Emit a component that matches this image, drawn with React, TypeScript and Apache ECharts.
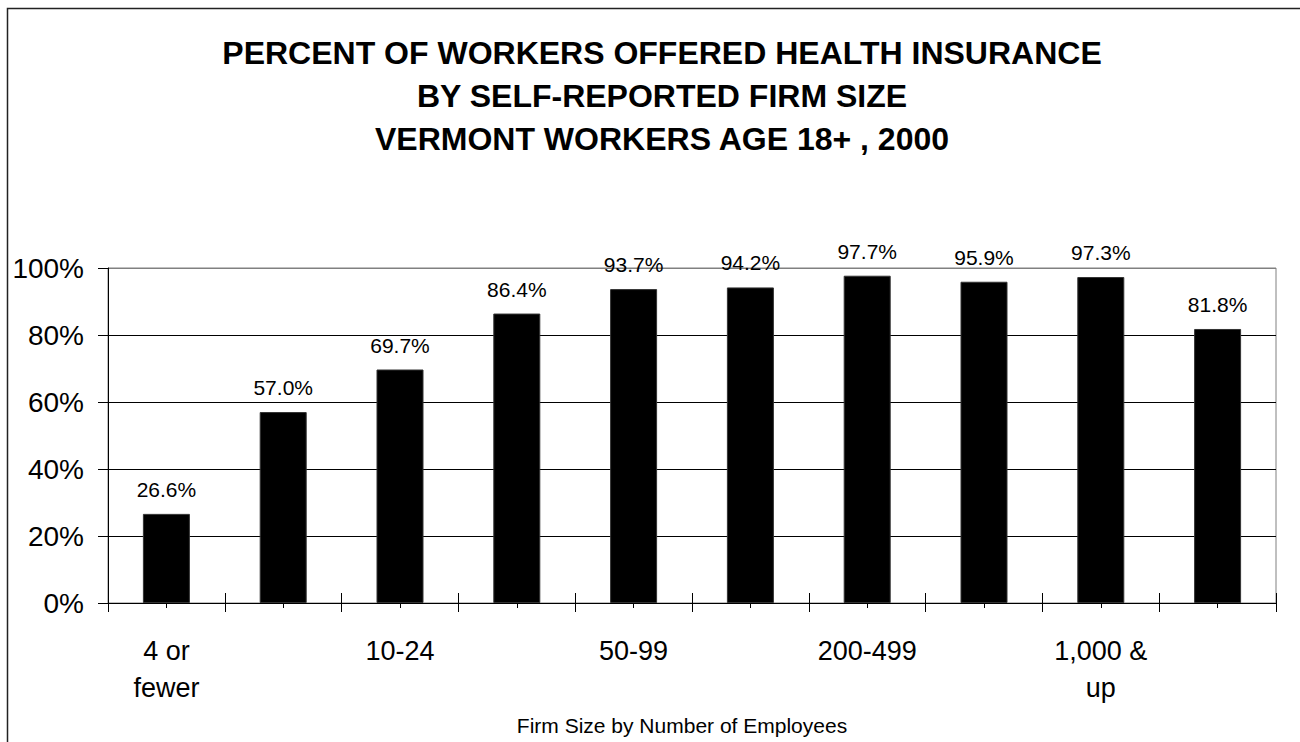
import React, { useEffect, useRef } from "react";
import * as echarts from "echarts";

const categories = [
  "4 or\nfewer",
  "5-9",
  "10-24",
  "25-49",
  "50-99",
  "100-199",
  "200-499",
  "500-999",
  "1,000 &\nup",
  "Don't know",
];
const values = [26.6, 57.0, 69.7, 86.4, 93.7, 94.2, 97.7, 95.9, 97.3, 81.8];
const titleLines = [
  "PERCENT OF WORKERS OFFERED HEALTH INSURANCE",
  "BY SELF-REPORTED FIRM SIZE",
  "VERMONT WORKERS AGE 18+ , 2000",
];
const xAxisTitle = "Firm Size by Number of Employees";

const FONT = "'Liberation Sans', Arial, Helvetica, sans-serif";

export default function App() {
  const ref = useRef<HTMLDivElement>(null);
  useEffect(() => {
    document.body.style.margin = "0";
    const chart = echarts.init(ref.current!, null, { renderer: "svg" });
    const hidden = {
      axisLine: { show: false },
      axisLabel: { show: false },
      splitLine: { show: false },
    };
    chart.setOption({
      animation: false,
      backgroundColor: "#ffffff",
      textStyle: { fontFamily: FONT },
      title: {
        text: titleLines.join("\n"),
        left: 657,
        top: 26,
        textAlign: "center",
        textStyle: {
          fontFamily: FONT,
          fontSize: 32,
          fontWeight: "bold",
          color: "#000",
          lineHeight: 43,
        },
      },
      graphic: [
        {
          type: "rect",
          shape: { x: 7.5, y: 8.5, width: 1400, height: 900 },
          style: { fill: "none", stroke: "#222", lineWidth: 1.5 },
          silent: true,
        },
        {
          type: "text",
          x: 682,
          y: 725,
          style: {
            text: xAxisTitle,
            fontFamily: FONT,
            fontSize: 21,
            fill: "#000",
            textAlign: "center",
            textVerticalAlign: "middle",
          },
        },
      ],
      grid: {
        left: 108,
        right: 24,
        top: 268,
        bottom: 139,
        show: true,
        borderColor: "#808080",
        borderWidth: 1,
        backgroundColor: "#fff",
      },
      xAxis: [
        {
          type: "category",
          data: categories,
          position: "bottom",
          axisLine: { show: true, lineStyle: { color: "#000", width: 1 } },
          axisTick: {
            show: true,
            interval: 0,
            length: 9,
            inside: false,
            alignWithLabel: false,
            lineStyle: { color: "#000" },
          },
          axisLabel: {
            interval: 1,
            fontFamily: FONT,
            fontSize: 27,
            lineHeight: 37,
            color: "#000",
            margin: 29,
          },
          splitLine: { show: false },
        },
        {
          type: "category",
          data: categories,
          position: "bottom",
          offset: 0,
          ...hidden,
          axisTick: {
            show: true,
            interval: 0,
            length: 10,
            inside: true,
            alignWithLabel: false,
            lineStyle: { color: "#000" },
          },
        },
        {
          type: "category",
          data: categories,
          position: "bottom",
          offset: 0,
          ...hidden,
          axisTick: {
            show: true,
            interval: 0,
            length: 5,
            inside: false,
            alignWithLabel: true,
            lineStyle: { color: "#000" },
          },
        },
      ],
      yAxis: {
        type: "value",
        min: 0,
        max: 100,
        interval: 20,
        axisLine: { show: true, lineStyle: { color: "#000", width: 1 } },
        axisTick: { show: true, length: 10, lineStyle: { color: "#000" } },
        axisLabel: {
          formatter: "{value}%",
          fontFamily: FONT,
          fontSize: 28,
          color: "#000",
          margin: 24,
        },
        splitLine: {
          show: true,
          lineStyle: {
            color: ["#000", "#000", "#000", "#000", "#000", "#808080"],
            width: 1,
          },
        },
      },
      series: [
        {
          type: "bar",
          xAxisIndex: 0,
          data: values,
          barWidth: 47,
          itemStyle: { color: "#000", borderColor: "#333", borderWidth: 1 },
          label: {
            show: true,
            position: "top",
            distance: 14,
            fontFamily: FONT,
            fontSize: 21,
            color: "#000",
            formatter: (p: any) => Number(p.value).toFixed(1) + "%",
          },
        },
      ],
    });
    return () => chart.dispose();
  }, []);
  return <div ref={ref} style={{ width: 1300, height: 742 }} />;
}
